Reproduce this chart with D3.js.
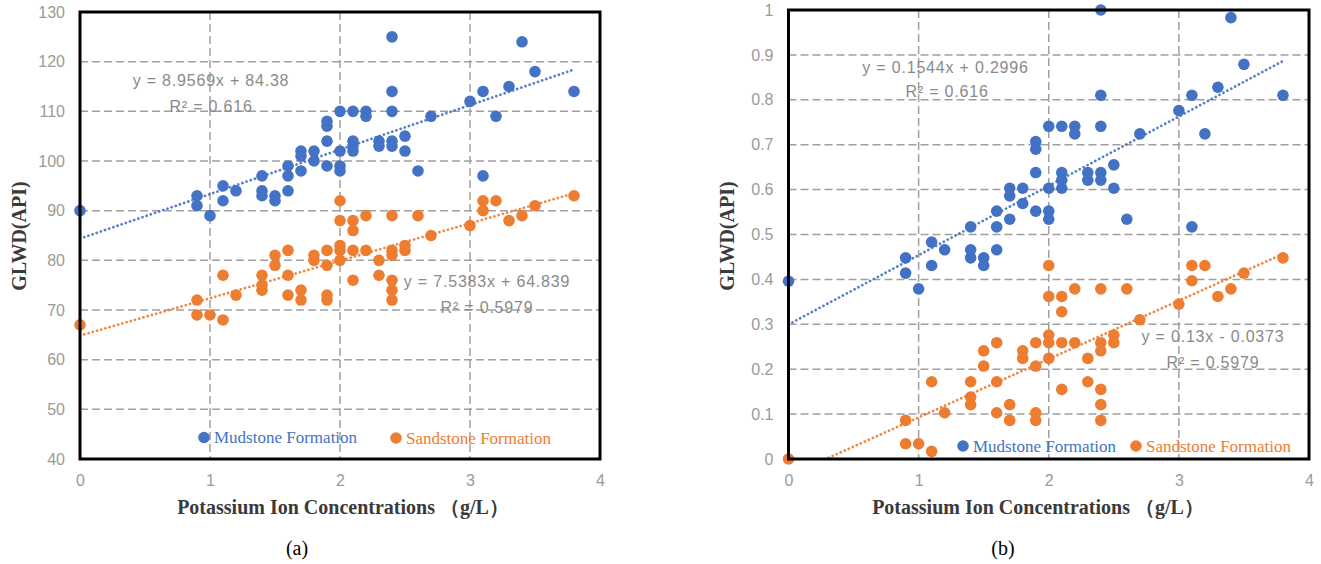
<!DOCTYPE html>
<html><head><meta charset="utf-8">
<script src="https://cdn.jsdelivr.net/npm/d3@7"></script>
<style>body{margin:0;background:#fff;} svg{display:block;}</style>
</head><body>
<svg id="c" width="1321" height="564"></svg>
<script>
// ---------- data ----------
const xMud = [0,0.9,0.9,1.0,1.1,1.1,1.2,1.4,1.4,1.4,1.5,1.5,1.6,1.6,1.6,1.7,1.7,1.7,1.8,1.8,
  1.9,1.9,1.9,1.9,2.0,2.0,2.0,2.0,2.1,2.1,2.1,2.1,2.2,2.2,2.3,2.3,2.4,2.4,2.4,2.4,2.4,
  2.5,2.5,2.6,2.7,3.0,3.1,3.1,3.2,3.3,3.4,3.5,3.8];
const glwdMudA = [90,93,91,89,95,92,94,97,94,93,93,92,99,97,94,102,101,98,102,100,
  108,107,104,99,110,102,99,98,110,104,103,102,110,109,104,103,125,114,110,104,103,
  105,102,98,109,112,114,97,109,115,124,118,114];
const glwdMudB = [0.396,0.448,0.414,0.379,0.483,0.431,0.466,0.517,0.466,0.448,0.448,0.431,0.552,0.517,0.466,0.603,0.586,0.534,0.603,0.569,
  0.707,0.690,0.638,0.552,0.741,0.603,0.552,0.534,0.741,0.638,0.621,0.603,0.741,0.724,0.638,0.621,1.0,0.810,0.741,0.638,0.621,
  0.655,0.603,0.534,0.724,0.776,0.810,0.517,0.724,0.828,0.983,0.879,0.810];

const xSand = [0,0.9,0.9,1.0,1.1,1.1,1.2,1.4,1.4,1.4,1.5,1.5,1.6,1.6,1.6,1.7,1.7,1.8,1.8,
  1.9,1.9,1.9,1.9,2.0,2.0,2.0,2.0,2.0,2.1,2.1,2.1,2.1,2.2,2.2,2.3,2.3,2.4,2.4,2.4,2.4,2.4,2.4,
  2.5,2.5,2.6,2.7,3.0,3.1,3.1,3.2,3.3,3.4,3.5,3.8];
const glwdSandA = [67,72,69,69,77,68,73,77,75,74,81,79,82,77,73,74,72,81,80,
  82,79,73,72,92,88,83,82,80,88,86,82,76,89,82,80,77,89,82,81,76,74,72,
  83,82,89,85,87,92,90,92,88,89,91,93];
const glwdSandB = [0,0.086,0.034,0.034,0.172,0.017,0.103,0.172,0.138,0.121,0.241,0.207,0.259,0.172,0.103,0.121,0.086,0.241,0.224,
  0.259,0.207,0.103,0.086,0.431,0.362,0.276,0.259,0.224,0.362,0.328,0.259,0.155,0.379,0.259,0.224,0.172,0.379,0.259,0.241,0.155,0.121,0.086,
  0.276,0.259,0.379,0.310,0.345,0.431,0.397,0.431,0.362,0.379,0.414,0.448];

const trendMudA = [8.9569, 84.38];
const trendSandA = [7.5383, 64.839];
const trendMudB = [0.1544, 0.2996];
const trendSandB = [0.13, -0.0373];
const eqLabelsA = ["y = 8.9569x + 84.38", "R² = 0.616", "y = 7.5383x + 64.839", "R² = 0.5979"];
const eqLabelsB = ["y = 0.1544x + 0.2996", "R² = 0.616", "y = 0.13x - 0.0373", "R² = 0.5979"];

const xTicks = [0,1,2,3,4];
const yTicksA = [40,50,60,70,80,90,100,110,120,130];
const yTicksB = [0,0.1,0.2,0.3,0.4,0.5,0.6,0.7,0.8,0.9,1];
const seriesNames = ["Mudstone Formation", "Sandstone Formation"];
const xTitle = "Potassium Ion Concentrations （g/L）";
const yTitle = "GLWD(API)";
const captions = ["(a)", "(b)"];

const BLUE = "#4472C4", ORANGE = "#ED7D31";
const svg = d3.select("#c");

function draw(cfg) {
  const g = svg.append("g");
  const x = d3.scaleLinear().domain([0, 4]).range([cfg.L, cfg.R]);
  const y = d3.scaleLinear().domain([cfg.yTicks[0], cfg.yTicks[cfg.yTicks.length-1]]).range([cfg.B, cfg.T]);

  // grid
  g.selectAll(".hg").data(cfg.yTicks.slice(1, -1)).join("line")
    .attr("x1", cfg.L).attr("x2", cfg.R).attr("y1", d => y(d)).attr("y2", d => y(d))
    .attr("stroke", "#a0a0a0").attr("stroke-width", 1.5).attr("stroke-dasharray", "8,4");
  g.selectAll(".vg").data(xTicks.slice(1, -1)).join("line")
    .attr("y1", cfg.T).attr("y2", cfg.B).attr("x1", d => x(d)).attr("x2", d => x(d))
    .attr("stroke", "#a0a0a0").attr("stroke-width", 1.5).attr("stroke-dasharray", "8,4");

  // axes labels
  const ya = g.append("g").attr("transform", `translate(${cfg.L},0)`)
    .call(d3.axisLeft(y).tickValues(cfg.yTicks).tickSize(0).tickPadding(15).tickFormat(cfg.fmt));
  const xa = g.append("g").attr("transform", `translate(0,${cfg.B})`)
    .call(d3.axisBottom(x).tickValues(xTicks).tickSize(0).tickPadding(16).tickFormat(d3.format("d")));
  [ya, xa].forEach(a => {
    a.select(".domain").remove();
    a.selectAll("text").attr("font-family", "'Liberation Sans', Arial, sans-serif")
      .attr("font-size", 16).attr("fill", "#9a9a9a");
  });

  // points
  const clipId = "clip" + cfg.id;
  svg.append("clipPath").attr("id", clipId).append("rect")
    .attr("x", cfg.L).attr("y", cfg.T).attr("width", cfg.R - cfg.L).attr("height", cfg.B - cfg.T);

  const pts = g.append("g");
  pts.selectAll(".m").data(xMud.map((d, i) => [d, cfg.mud[i]])).join("circle")
    .attr("cx", d => x(d[0])).attr("cy", d => y(d[1])).attr("r", 5.8).attr("fill", BLUE);
  pts.selectAll(".s").data(xSand.map((d, i) => [d, cfg.sand[i]])).join("circle")
    .attr("cx", d => x(d[0])).attr("cy", d => y(d[1])).attr("r", 5.8).attr("fill", ORANGE);

  // trend lines
  const tl = g.append("g").attr("clip-path", `url(#${clipId})`);
  [[cfg.tMud, BLUE], [cfg.tSand, ORANGE]].forEach(([t, col]) => {
    const xs = [0, d3.max(xMud)];
    tl.append("line")
      .attr("x1", x(xs[0])).attr("y1", y(t[0] * xs[0] + t[1]))
      .attr("x2", x(xs[1])).attr("y2", y(t[0] * xs[1] + t[1]))
      .attr("stroke", col).attr("stroke-width", 2.7).attr("stroke-linecap", "round")
      .attr("stroke-dasharray", "0.1,4.3").attr("opacity", 0.9);
  });

  // frame
  g.append("rect").attr("x", cfg.L).attr("y", cfg.T).attr("width", cfg.R - cfg.L).attr("height", cfg.B - cfg.T)
    .attr("fill", "none").attr("stroke", "#000").attr("stroke-width", 3);

  // equations
  cfg.eqPos.forEach((p, i) => {
    g.append("text").attr("x", p[0]).attr("y", p[1]).attr("text-anchor", "middle")
      .attr("font-family", "'Liberation Sans', Arial, sans-serif").attr("font-size", 16)
      .attr("letter-spacing", 0.8).attr("fill", "#8a8a8a").text(cfg.eqs[i]);
  });

  // legend
  cfg.legPos.forEach((p, i) => {
    const col = i === 0 ? BLUE : ORANGE;
    g.append("circle").attr("cx", p[0]).attr("cy", p[1]).attr("r", 5.8).attr("fill", col);
    g.append("text").attr("x", p[0] + 10).attr("y", p[1] + 5.5)
      .attr("font-family", "'Liberation Serif', 'Times New Roman', serif").attr("font-size", 17)
      .attr("fill", col).text(seriesNames[i]);
  });

  // titles
  g.append("text").attr("x", cfg.xTitleX).attr("y", 514).attr("text-anchor", "middle")
    .attr("font-family", "'Liberation Serif', 'Times New Roman', serif").attr("font-weight", "bold")
    .attr("font-size", 20).attr("fill", "#3a3a3a").text(xTitle);
  g.append("text").attr("transform", `translate(${cfg.yTitleX},236) rotate(-90)`).attr("text-anchor", "middle")
    .attr("font-family", "'Liberation Serif', 'Times New Roman', serif").attr("font-weight", "bold")
    .attr("font-size", 20).attr("fill", "#3a3a3a").text(yTitle);
  g.append("text").attr("x", cfg.capX).attr("y", 555).attr("text-anchor", "middle")
    .attr("font-family", "'Liberation Serif', 'Times New Roman', serif")
    .attr("font-size", 20).attr("fill", "#000").text(cfg.caption);
}

draw({
  id: "a", L: 80, R: 600, T: 12, B: 459, yTicks: yTicksA, fmt: d3.format("d"),
  mud: glwdMudA, sand: glwdSandA, tMud: trendMudA, tSand: trendSandA, eqs: eqLabelsA,
  eqPos: [[211, 86], [211, 111.5], [487, 286.5], [487, 313]],
  legPos: [[204, 437.5], [396, 438]],
  xTitleX: 343, yTitleX: 26, capX: 297, caption: captions[0]
});
draw({
  id: "b", L: 788.5, R: 1309, T: 10, B: 459, yTicks: yTicksB, fmt: d => String(+d.toFixed(1)),
  mud: glwdMudB, sand: glwdSandB, tMud: trendMudB, tSand: trendSandB, eqs: eqLabelsB,
  eqPos: [[945.5, 72.5], [947, 96.5], [1213, 341.5], [1213, 368]],
  legPos: [[963, 446], [1136, 446]],
  xTitleX: 1038, yTitleX: 734, capX: 1003, caption: captions[1]
});
</script>
</body></html>
